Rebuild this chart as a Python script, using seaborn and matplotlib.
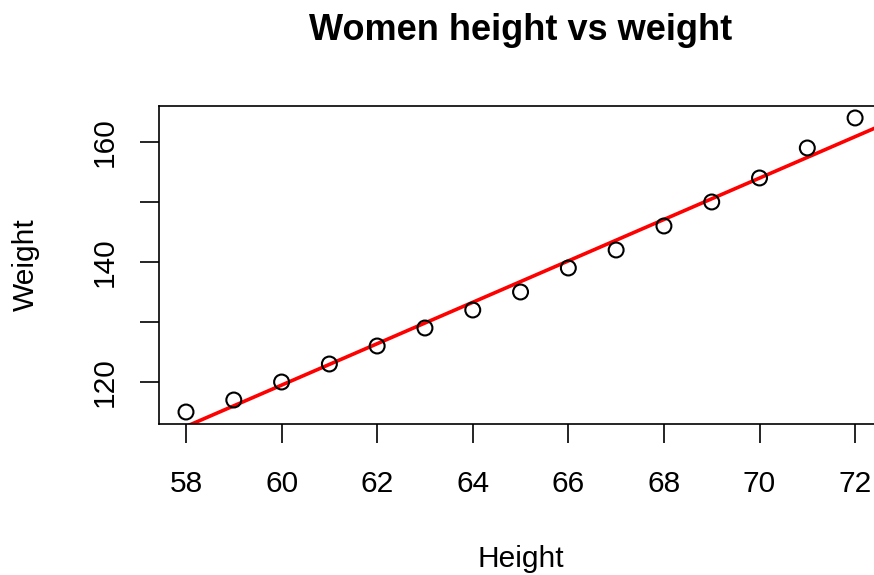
import matplotlib
matplotlib.use("Agg")
import matplotlib.pyplot as plt
import pandas as pd
import seaborn as sns
from matplotlib.ticker import FixedLocator, FixedFormatter

# women dataset: height (in) vs weight (lb)
height = [58, 59, 60, 61, 62, 63, 64, 65, 66, 67, 68, 69, 70, 71, 72]
weight = [115, 117, 120, 123, 126, 129, 132, 135, 139, 142, 146, 150, 154, 159, 164]

x_ticks = [58, 60, 62, 64, 66, 68, 70, 72]
y_ticks = [120, 130, 140, 150, 160]
y_tick_labels = ["120", "", "140", "", "160"]

AX_RECT = [0.1822, 0.2630, 0.8268, 0.5523]


def main() -> None:
    sns.set_theme(style="white")
    plt.rcParams["font.family"] = ["Liberation Sans", "DejaVu Sans"]

    df = pd.DataFrame({"Height": height, "Weight": weight})

    fig = plt.figure(figsize=(8.74, 5.75), dpi=100)
    ax = fig.add_axes(AX_RECT)

    # R-style 4% padding around data range
    xr = max(height) - min(height)
    yr = max(weight) - min(weight)
    xlim = (min(height) - 0.04 * xr, max(height) + 0.04 * xr)
    ylim = (min(weight) - 0.04 * yr, max(weight) + 0.04 * yr)
    ax.set_xlim(*xlim)
    ax.set_ylim(*ylim)

    sns.regplot(
        data=df, x="Height", y="Weight", ax=ax, ci=None, truncate=False,
        scatter_kws={"s": 115, "facecolors": "none", "edgecolors": "black",
                     "linewidths": 1.5, "alpha": 1.0, "zorder": 3},
        line_kws={"color": "red", "linewidth": 2.6, "zorder": 2},
    )
    ax.set_xlim(*xlim)
    ax.set_ylim(*ylim)

    ax.xaxis.set_major_locator(FixedLocator(x_ticks))
    ax.yaxis.set_major_locator(FixedLocator(y_ticks))
    ax.yaxis.set_major_formatter(FixedFormatter(y_tick_labels))
    ax.tick_params(axis="both", direction="out", length=14, width=1.2,
                   color="black", labelsize=21.5, labelcolor="black",
                   bottom=True, left=True)
    ax.tick_params(axis="x", pad=19)
    ax.tick_params(axis="y", pad=15)
    for lab in ax.get_yticklabels():
        lab.set_rotation(90)
        lab.set_va("center")

    for s in ax.spines.values():
        s.set_visible(True)
        s.set_color("black")
        s.set_linewidth(1.2)

    ax.set_xlabel("Height", fontsize=21.5, color="black")
    ax.set_ylabel("Weight", fontsize=21.5, color="black")
    ax.xaxis.set_label_coords(0.5, -0.381)
    ax.yaxis.set_label_coords(-0.165, 0.5)

    # title centred over the plot region (which runs past the right edge)
    fig.text(AX_RECT[0] + AX_RECT[2] / 2, 1 - 30 / 575, "Women height vs weight",
             fontsize=26, fontweight="bold", ha="center", va="center",
             color="black")

    fig.savefig("out.png", dpi=100)
    plt.close(fig)


if __name__ == "__main__":
    main()
